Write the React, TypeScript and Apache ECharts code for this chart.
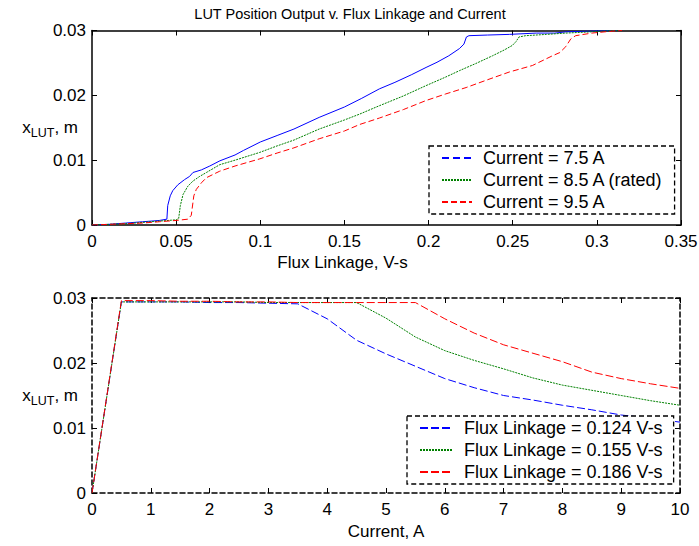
import React, { useEffect, useRef } from 'react';
import * as echarts from 'echarts';

const FONT = '"Liberation Sans", Arial, Helvetica, sans-serif';

// ---------- Top plot: x_LUT vs flux linkage, for three currents ----------
const topSeriesNames = ['Current = 7.5 A', 'Current = 8.5 A (rated)', 'Current = 9.5 A'];

const flux75: [number, number][] = [
  [0, 0], [0.01, 0.0001], [0.02, 0.0003], [0.03, 0.0005], [0.04, 0.0007], [0.0445, 0.0009],
  [0.045, 0.003], [0.0465, 0.0045], [0.048, 0.0053], [0.051, 0.0062], [0.055, 0.007],
  [0.058, 0.0075], [0.06, 0.0081], [0.065, 0.0085], [0.07, 0.0091], [0.076, 0.0099],
  [0.085, 0.0108], [0.09, 0.0115], [0.1, 0.0128], [0.11, 0.0138], [0.12, 0.0148],
  [0.135, 0.0166], [0.15, 0.0182], [0.16, 0.0195], [0.1708, 0.021], [0.18, 0.022],
  [0.19, 0.0232], [0.1985, 0.0243], [0.205, 0.0251], [0.212, 0.0261], [0.2183, 0.0272],
  [0.221, 0.0279], [0.2225, 0.029], [0.224, 0.0292], [0.235, 0.0293], [0.248, 0.0294],
  [0.264, 0.0296], [0.275, 0.0296], [0.282, 0.0298], [0.297, 0.0299], [0.309, 0.03], [0.315, 0.03],
];

const flux85: [number, number][] = [
  [0, 0], [0.01, 0.0001], [0.02, 0.0002], [0.03, 0.0004], [0.04, 0.0006], [0.05, 0.0008],
  [0.0515, 0.001], [0.0525, 0.003], [0.0541, 0.0047], [0.057, 0.006], [0.0601, 0.0068],
  [0.064, 0.0075], [0.068, 0.0081], [0.0759, 0.0093], [0.085, 0.01], [0.0997, 0.0112],
  [0.11, 0.0122], [0.12, 0.0131], [0.135, 0.0148], [0.15, 0.0162], [0.159, 0.0171],
  [0.1708, 0.0184], [0.185, 0.0199], [0.1985, 0.0215], [0.21, 0.0228], [0.2183, 0.0238],
  [0.228, 0.0249], [0.238, 0.0261], [0.245, 0.027], [0.2498, 0.0277], [0.252, 0.0283],
  [0.2537, 0.029], [0.2577, 0.0292], [0.27, 0.0294], [0.2815, 0.0296], [0.297, 0.0298],
  [0.309, 0.03], [0.315, 0.03],
];

const flux95: [number, number][] = [
  [0, 0], [0.01, 0.0001], [0.02, 0.0002], [0.03, 0.0003], [0.04, 0.0005], [0.05, 0.0007],
  [0.057, 0.0009], [0.059, 0.0015], [0.0605, 0.0045], [0.062, 0.0055], [0.065, 0.0065],
  [0.068, 0.0073], [0.0759, 0.0083], [0.085, 0.0091], [0.0997, 0.0102], [0.11, 0.0111],
  [0.12, 0.0119], [0.135, 0.0133], [0.15, 0.0145], [0.159, 0.0155], [0.1708, 0.0165],
  [0.185, 0.0178], [0.1985, 0.0192], [0.21, 0.0202], [0.2223, 0.0212], [0.235, 0.0224],
  [0.248, 0.0236], [0.2617, 0.0246], [0.2736, 0.0261], [0.278, 0.0266], [0.2815, 0.0275],
  [0.2845, 0.0287], [0.2874, 0.0292], [0.297, 0.0296], [0.309, 0.0299], [0.315, 0.03],
];

// ---------- Bottom plot: x_LUT vs current, for three flux linkages ----------
const bottomSeriesNames = [
  'Flux Linkage = 0.124 V-s',
  'Flux Linkage = 0.155 V-s',
  'Flux Linkage = 0.186 V-s',
];
const currents = [0, 0.5, 1, 1.5, 2, 2.5, 3, 3.5, 4, 4.5, 5, 5.5, 6, 6.5, 7, 7.5, 8, 8.5, 9, 9.5, 10];
const pos0124 = [0, 0.0294, 0.0294, 0.0294, 0.0293, 0.0293, 0.0292, 0.0291, 0.0268, 0.0235, 0.0214,
  0.0195, 0.0176, 0.0162, 0.015, 0.0143, 0.0135, 0.0128, 0.012, 0.0115, 0.0109];
const pos0155 = [0, 0.0294, 0.0294, 0.0294, 0.0294, 0.0294, 0.0293, 0.0293, 0.0293, 0.0293, 0.0269,
  0.024, 0.0219, 0.0204, 0.0191, 0.0177, 0.0166, 0.0158, 0.015, 0.0142, 0.0135];
const pos0186 = [0, 0.0296, 0.0296, 0.0295, 0.0295, 0.0294, 0.0294, 0.0293, 0.0293, 0.0293, 0.0293,
  0.0293, 0.0268, 0.0246, 0.0228, 0.0215, 0.0202, 0.0186, 0.0176, 0.0168, 0.0161];

const titleText = 'LUT Position Output v. Flux Linkage and Current';

const BLUE = '#0000ff';
const GREEN = '#008000';
const RED = '#ff0000';

const zip = (xs: number[], ys: number[]) => xs.map((x, i) => [x, ys[i]]);

const solidLine = { color: '#000', width: 1.5 };
const dashedLine = { color: '#000', width: 1.5, type: [5, 3] as number[] };

function xAxisCfg(grid: number, pos: 'bottom' | 'top', max: number, interval: number, line: any, name?: string, nameGap?: number, namePad?: number[]) {
  return {
    type: 'value',
    gridIndex: grid,
    position: pos,
    min: 0,
    max,
    interval,
    axisLine: { show: true, onZero: false, lineStyle: line },
    axisTick: { show: true, inside: true, length: 5, lineStyle: { color: '#000', width: 1 } },
    axisLabel: { show: pos === 'bottom', margin: 8, fontSize: 17, color: '#000', fontFamily: FONT },
    splitLine: { show: false },
    name: name || '',
    nameLocation: 'middle',
    nameGap: nameGap || 0,
    nameMoveOverlap: false,
    nameTextStyle: { fontSize: 17, color: '#000', fontFamily: FONT, padding: namePad || 0 },
  };
}

function yAxisCfg(grid: number, pos: 'left' | 'right', line: any, withName: boolean) {
  return {
    type: 'value',
    gridIndex: grid,
    position: pos,
    min: 0,
    max: 0.03,
    interval: 0.01,
    axisLine: { show: true, onZero: false, lineStyle: line },
    axisTick: { show: true, inside: true, length: 5, lineStyle: { color: '#000', width: 1 } },
    axisLabel: { show: pos === 'left', margin: 6, fontSize: 17, color: '#000', fontFamily: FONT },
    splitLine: { show: false },
    name: withName ? '{b|x}{s|LUT}{b|, m}' : '',
    nameLocation: 'middle',
    nameRotate: 0,
    nameGap: 14,
    nameMoveOverlap: false,
    nameTextStyle: {
      color: '#000',
      fontFamily: FONT,
      rich: {
        b: { fontSize: 17, color: '#000', fontFamily: FONT, verticalAlign: 'middle', lineHeight: 24 },
        s: { fontSize: 12.5, color: '#000', fontFamily: FONT, verticalAlign: 'bottom' },
      },
    },
  };
}

function legendCfg(left: number, top: number, names: string[], itemWidth: number, dashes: any[], padRight: number) {
  return {
    orient: 'vertical',
    left,
    top,
    selectedMode: false,
    data: names.map((n, i) => (dashes[i] ? { name: n, lineStyle: { type: dashes[i] } } : { name: n })),
    backgroundColor: '#fff',
    borderColor: '#000',
    borderWidth: 1.3,
    borderType: [5, 3],
    padding: [3, padRight, 3, 12],
    itemGap: 4,
    itemWidth,
    itemHeight: 14,
    itemStyle: { color: 'rgba(0,0,0,0)', borderColor: 'rgba(0,0,0,0)', borderWidth: 0, opacity: 0 },
    textStyle: { fontSize: 18, color: '#000', fontFamily: FONT, lineHeight: 18, padding: [0, 0, 0, 6] },
  };
}

export default function App() {
  const ref = useRef<HTMLDivElement>(null);
  useEffect(() => {
    const chart = echarts.init(ref.current!, null, { renderer: 'svg' });
    const lineSeries = (name: string, data: any[], color: string, type: any, xi: number, yi: number) => ({
      name,
      type: 'line',
      data,
      xAxisIndex: xi,
      yAxisIndex: yi,
      symbol: 'none',
      showSymbol: false,
      lineStyle: { color, width: 1, type },
      itemStyle: { color },
      silent: true,
    });
    chart.setOption({
      animation: false,
      backgroundColor: '#fff',
      title: {
        text: titleText,
        left: 345,
        textAlign: 'center',
        top: 1,
        textStyle: { fontSize: 14.5, fontWeight: 'normal', color: '#000', fontFamily: FONT },
      },
      grid: [
        { left: 92, top: 30.5, width: 589, height: 194.5, outerBoundsMode: 'none', containLabel: false },
        { left: 92, top: 298, width: 588, height: 195, outerBoundsMode: 'none', containLabel: false },
      ],
      xAxis: [
        xAxisCfg(0, 'bottom', 0.35, 0.05, solidLine, 'Flux Linkage, V-s', 29, [0, 88, 0, 0]),
        xAxisCfg(0, 'top', 0.35, 0.05, solidLine),
        xAxisCfg(1, 'bottom', 10, 1, dashedLine, 'Current, A', 30),
        xAxisCfg(1, 'top', 10, 1, dashedLine),
      ],
      yAxis: [
        yAxisCfg(0, 'left', solidLine, true),
        yAxisCfg(0, 'right', solidLine, false),
        yAxisCfg(1, 'left', dashedLine, true),
        yAxisCfg(1, 'right', dashedLine, false),
      ],
      legend: [
        legendCfg(429, 146, topSeriesNames, 30, [[7, 4], null, null], 11),
        legendCfg(407, 416, bottomSeriesNames, 33, [null, null, null], 11),
      ],
      series: [
        lineSeries(topSeriesNames[0], flux75, BLUE, 'solid', 0, 0),
        lineSeries(topSeriesNames[1], flux85, GREEN, [2, 1], 0, 0),
        lineSeries(topSeriesNames[2], flux95, RED, [6, 3], 0, 0),
        lineSeries(bottomSeriesNames[0], zip(currents, pos0124), BLUE, [8, 3], 2, 2),
        lineSeries(bottomSeriesNames[1], zip(currents, pos0155), GREEN, [2, 1], 2, 2),
        lineSeries(bottomSeriesNames[2], zip(currents, pos0186), RED, [8, 3], 2, 2),
      ],
    });
    return () => chart.dispose();
  }, []);
  return (
    <div
      ref={ref}
      style={{ position: 'fixed', left: 0, top: 0, width: 699, height: 546, background: '#fff' }}
    />
  );
}
